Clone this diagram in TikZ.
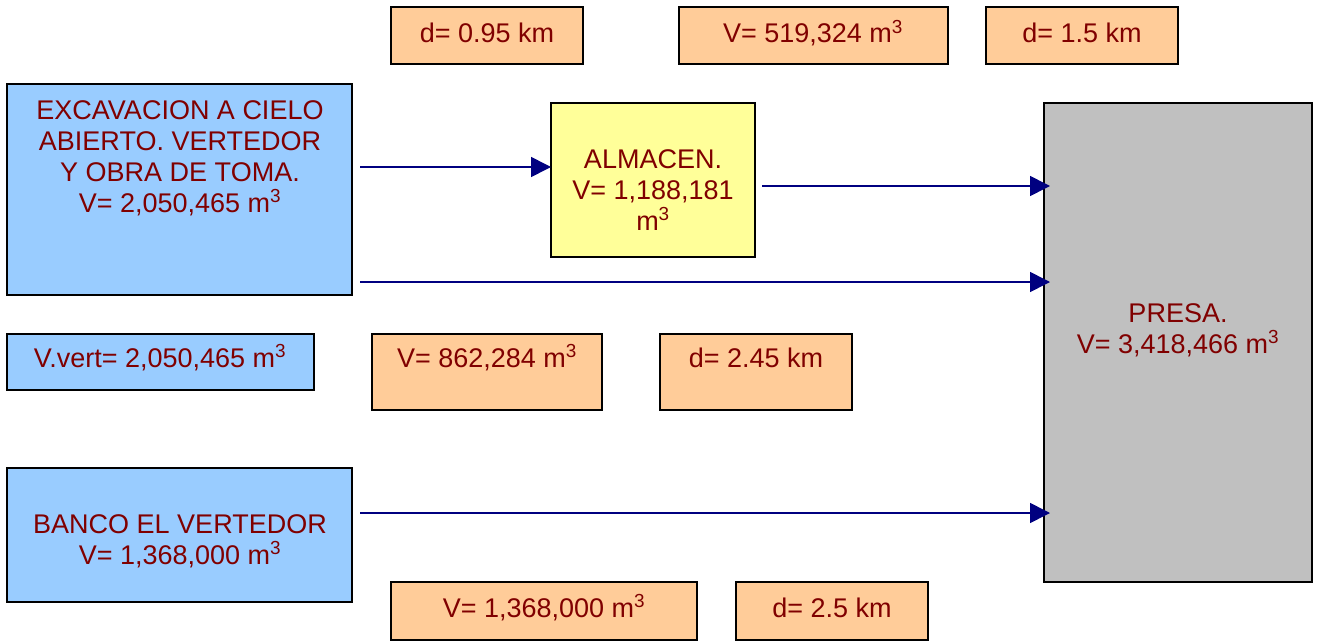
\documentclass[tikz,border=0pt]{standalone}
\usepackage{fontspec}
\setmainfont{Liberation Sans}
\usetikzlibrary{arrows.meta}
\definecolor{tred}{HTML}{800000}
\definecolor{bluef}{HTML}{99CCFF}
\definecolor{orangef}{HTML}{FFCC99}
\definecolor{yellowf}{HTML}{FFFF99}
\definecolor{grayf}{HTML}{C0C0C0}
\definecolor{navyc}{HTML}{000080}
\newcommand{\cub}{\textsuperscript{3}}
\begin{document}
\begin{tikzpicture}[x=1pt,y=-1pt,
  box/.style={draw=black,line width=1.3pt,anchor=north west,inner sep=0pt,outer sep=0pt},
  txt/.style={anchor=base,text=tred,font=\fontsize{27}{31}\selectfont,inner sep=0pt},
  arr/.style={draw=navyc,line width=1.6pt,-{Triangle[length=20pt,width=20pt]}}]
\useasboundingbox (0,0) rectangle (1319,642);
% boxes
\node[box,fill=orangef,minimum width=192pt,minimum height=57pt] (d095) at (391,7) {};
\node[box,fill=orangef,minimum width=269pt,minimum height=57pt] (v519) at (679,7) {};
\node[box,fill=orangef,minimum width=192pt,minimum height=57pt] (d15) at (986,7) {};
\node[box,fill=bluef,minimum width=345pt,minimum height=211pt] (exc) at (7,84) {};
\node[box,fill=yellowf,minimum width=204pt,minimum height=154pt] (alm) at (551,103) {};
\node[box,fill=grayf,minimum width=268pt,minimum height=479pt] (presa) at (1044,103) {};
\node[box,fill=bluef,minimum width=307pt,minimum height=56pt] (vvert) at (7,334) {};
\node[box,fill=orangef,minimum width=230pt,minimum height=76pt] (v862) at (372,334) {};
\node[box,fill=orangef,minimum width=192pt,minimum height=76pt] (d245) at (660,334) {};
\node[box,fill=bluef,minimum width=345pt,minimum height=134pt] (banco) at (7,468) {};
\node[box,fill=orangef,minimum width=306pt,minimum height=58pt] (v1368) at (391,582) {};
\node[box,fill=orangef,minimum width=192pt,minimum height=58pt] (d25) at (736,582) {};
% texts
\node[txt] (t1) at (487,43) {d= 0.95 km};
\node[txt] (t2) at (813,43) {V= 519,324 m\cub};
\node[txt] (t3) at (1082,43) {d= 1.5 km};
\node[txt] (e1) at (180,119) {EXCAVACION A CIELO};
\node[txt] (e2) at (180,150) {ABIERTO. VERTEDOR};
\node[txt] (e3) at (180,181) {Y OBRA DE TOMA.};
\node[txt] (e4) at (180,212) {V= 2,050,465 m\cub};
\node[txt] (a1) at (653,168) {ALMACEN.};
\node[txt] (a2) at (653,199) {V= 1,188,181};
\node[txt] (a3) at (653,230) {m\cub};
\node[txt] (p1) at (1178,322) {PRESA.};
\node[txt] (p2) at (1178,353) {V= 3,418,466 m\cub};
\node[txt] (t4) at (160,367) {V.vert= 2,050,465 m\cub};
\node[txt] (t5) at (487,367) {V= 862,284 m\cub};
\node[txt] (t6) at (756,367) {d= 2.45 km};
\node[txt] (b1) at (180,533) {BANCO EL VERTEDOR};
\node[txt] (b2) at (180,564) {V= 1,368,000 m\cub};
\node[txt] (t7) at (544,617) {V= 1,368,000 m\cub};
\node[txt] (t8) at (832,617) {d= 2.5 km};
% connectors
\coordinate (s1) at (360,167);
\coordinate (s2) at (762,186);
\coordinate (s3) at (360,282);
\coordinate (s4) at (360,513);
\draw[arr] (s1) -- (s1 -| alm.west);
\draw[arr] (s2) -- ([xshift=6pt]s2 -| presa.west);
\draw[arr] (s3) -- ([xshift=6pt]s3 -| presa.west);
\draw[arr] (s4) -- ([xshift=6pt]s4 -| presa.west);
\end{tikzpicture}
\end{document}
